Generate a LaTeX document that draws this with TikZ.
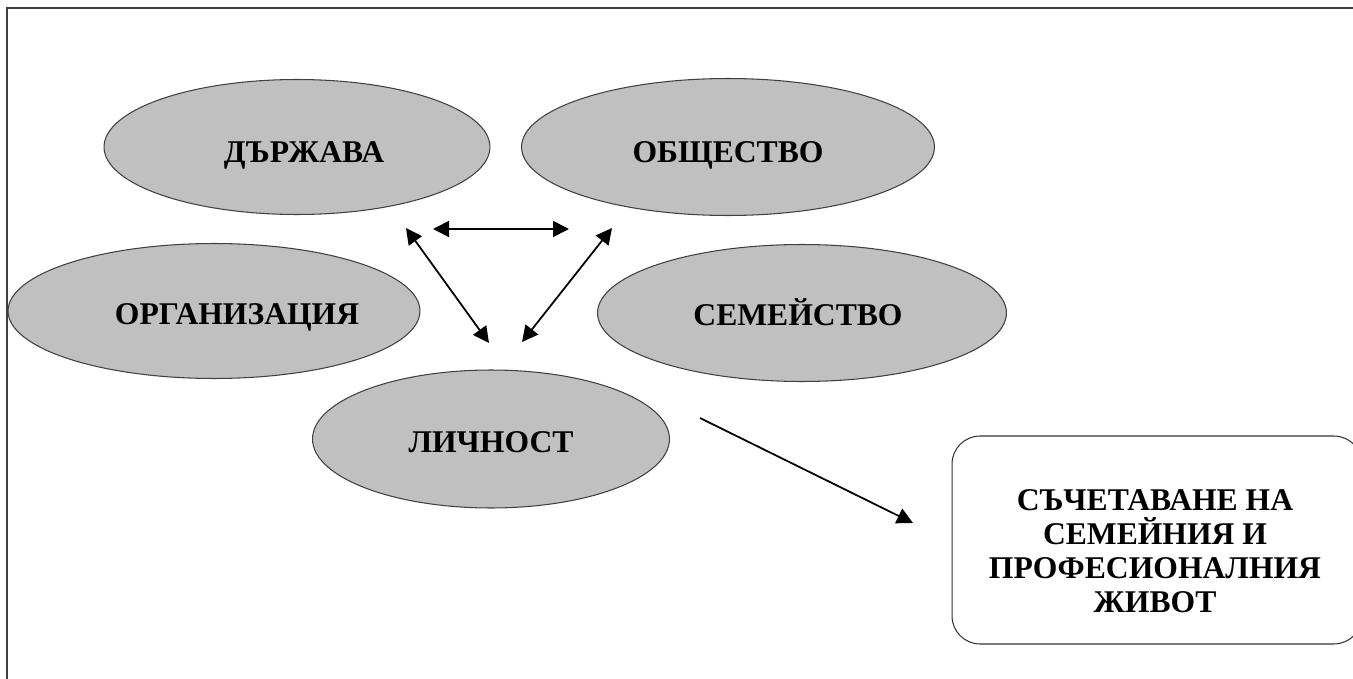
\documentclass[tikz,border=0pt]{standalone}
\usepackage{fontspec}
\setmainfont{Liberation Serif}
\usetikzlibrary{shapes.geometric,arrows.meta}
\definecolor{ovalgray}{HTML}{C0C0C0}
\tikzset{
  oval/.style={ellipse, draw=black!75, fill=ovalgray, line width=0.6pt, inner sep=0pt},
  caption/.style={inner sep=0pt, font=\fontsize{18}{19.4}\selectfont\bfseries},
  link/.style={line width=1pt, {Triangle[length=0.32cm,width=0.32cm]}-{Triangle[length=0.32cm,width=0.32cm]}},
  push/.style={line width=1pt, -{Triangle[length=0.32cm,width=0.32cm]}},
}

\begin{document}
\begin{tikzpicture}[x=0.02cm,y=-0.02cm]
\useasboundingbox (0,0) rectangle (1353,679);
\draw[line width=1.3pt, black!75] (7,679) -- (7,8) -- (1353,8);

% ovals
\node[oval, minimum width=7.72cm, minimum height=2.7cm] (state) at (297,147) {};
\node[oval, minimum width=8.26cm, minimum height=2.74cm] (society) at (728,147) {};
\node[oval, minimum width=8.24cm, minimum height=2.7cm] (org) at (214,311) {};
\node[oval, minimum width=8.18cm, minimum height=2.74cm] (family) at (802,313) {};
\node[oval, minimum width=7.14cm, minimum height=2.76cm] (person) at (491,439) {};

\node[caption, anchor=base] (state-t) at (304,163) {ДЪРЖАВА};
\node[caption, anchor=base] (society-t) at (728,163) {ОБЩЕСТВО};
\node[caption, anchor=base] (org-t) at (237,324) {ОРГАНИЗАЦИЯ};
\node[caption, anchor=base] (family-t) at (798,325) {СЕМЕЙСТВО};
\node[caption, anchor=base] (person-t) at (491,452) {ЛИЧНОСТ};

% result box
\node[draw=black!80, line width=0.6pt, rounded corners=0.56cm, minimum width=8.2cm,
  minimum height=4.16cm] (balance) at (1157,540) {};
\node[caption, align=center] (balance-t) at (1155,551)
  {СЪЧЕТАВАНЕ НА\\СЕМЕЙНИЯ И\\ПРОФЕСИОНАЛНИЯ\\ЖИВОТ};

% arrow ends
\coordinate (sr) at (433,229);
\coordinate (so) at (569,229);
\coordinate (st) at (406,228);
\coordinate (pl) at (489,343);
\coordinate (ot) at (612,228);
\coordinate (pr) at (522,342);
\coordinate (pb) at (700,418);
\coordinate (bt) at (913,523);

\draw[link] (sr) -- (so);
\draw[link] (st) -- (pl);
\draw[link] (ot) -- (pr);
\draw[push] (pb) -- (bt);
\end{tikzpicture}
\end{document}
